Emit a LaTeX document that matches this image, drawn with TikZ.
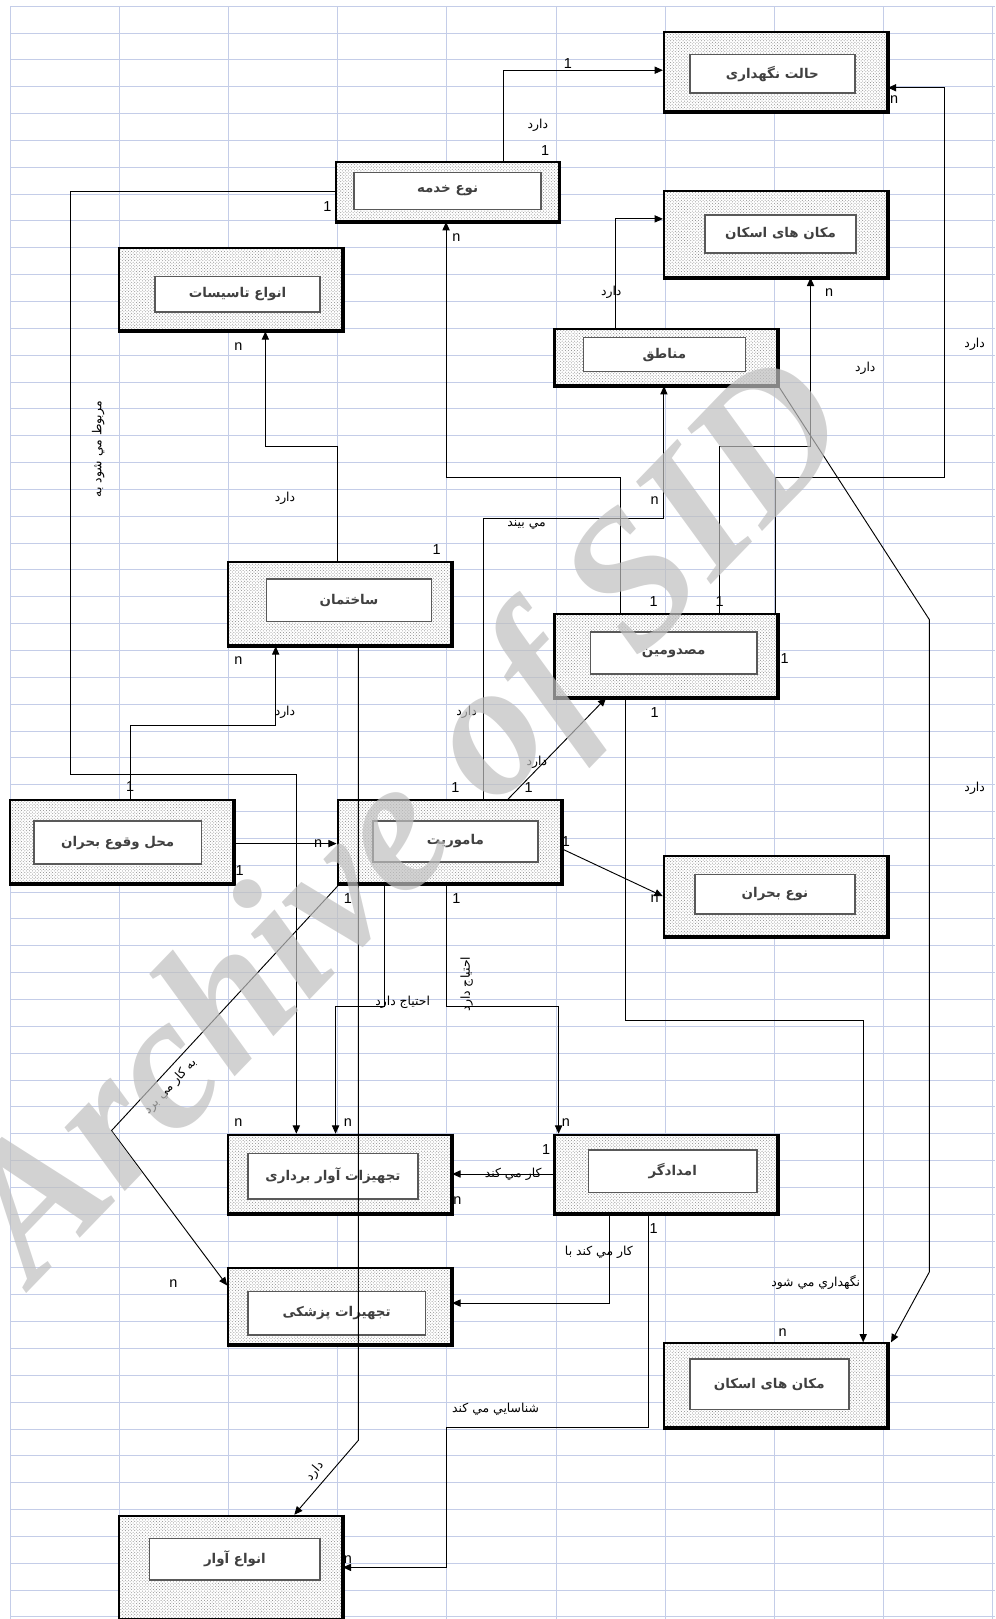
\documentclass[tikz,border=0pt]{standalone}
\usepackage{fontspec}
\setmainfont{Liberation Sans}
\newfontfamily\arabicfont[Script=Arabic]{DejaVu Sans}
\newfontfamily\wmfont{Liberation Serif}
\TeXXeTstate=1
\usetikzlibrary{arrows.meta,patterns}
\newcommand{\fa}[1]{{\arabicfont\beginR #1\endR}}

\begin{document}
\begin{tikzpicture}[x=1pt,y=-1pt,
  grid/.style={draw={rgb,255:red,196;green,205;blue,232},line width=0.9pt},
  ent/.style={draw,line width=2pt,preaction={fill=white},pattern=crosshatch dots,pattern color=black!45,minimum width=216pt,inner sep=0pt},
  lbl/.style={draw=black!65,line width=1.5pt,fill=white,inner sep=0pt,text=black!75,font=\arabicfont\bfseries\fontsize{13}{15}\selectfont},
  rel/.style={inner sep=1pt,font=\arabicfont\fontsize{12}{14}\selectfont},
  card/.style={inner sep=0pt,font=\fontsize{14}{16}\selectfont},
  ln/.style={line width=0.9pt},
  arr/.style={line width=0.9pt,-{Triangle[length=8pt,width=7pt]}}]
\useasboundingbox (0,0) rectangle (964,1568);
% background sheet
\foreach \k in {0,...,9} \draw[grid] ({10+105.7*\k},6) -- ({10+105.7*\k},1568);
\foreach \k in {0,...,60} \draw[grid] (10,{6+26*\k}) -- (964,{6+26*\k});

% entities
\node[ent,minimum height=77pt] (hefz) at (751,69.5) {};
\node[lbl,minimum width=160pt,minimum height=37pt] (hefzL) at (748,71.5) {\fa{حالت نگهداری}};
\node[ent,minimum height=57pt] (khadame) at (433,185.5) {};
\node[lbl,minimum width=181pt,minimum height=36pt] (khadameL) at (433.5,185) {\fa{نوع خدمه}};
\node[ent,minimum height=80pt] (tasisat) at (223,280) {};
\node[lbl,minimum width=160pt,minimum height=34pt] (tasisatL) at (230,285) {\fa{انواع تاسیسات}};
\node[ent,minimum height=83pt] (eskan1) at (751,226.5) {};
\node[lbl,minimum width=146pt,minimum height=37pt] (eskan1L) at (756,226.5) {\fa{مکان های اسکان}};
\node[ent,minimum height=54pt] (manategh) at (645,346) {};
\node[lbl,minimum width=157pt,minimum height=33pt] (manateghL) at (643.5,343.5) {\fa{مناطق}};
\node[ent,minimum height=81pt] (sakhteman) at (329,584.5) {};
\node[lbl,minimum width=160pt,minimum height=41pt] (sakhtemanL) at (338,581.5) {\fa{ساختمان}};
\node[ent,minimum height=80pt] (masdumin) at (645,635) {};
\node[lbl,minimum width=161pt,minimum height=41pt] (masduminL) at (652.5,632.5) {\fa{مصدومین}};
\node[ent,minimum height=80pt] (mahal) at (118,815) {};
\node[lbl,minimum width=162pt,minimum height=42pt] (mahalL) at (114,816) {\fa{محل وقوع بحران}};
\node[ent,minimum height=80pt] (mamuriat) at (435,815) {};
\node[lbl,minimum width=160pt,minimum height=40pt] (mamuriatL) at (441,815) {\fa{ماموریت}};
\node[ent,minimum height=78pt] (noebohran) at (751,868) {};
\node[lbl,minimum width=155pt,minimum height=38pt] (noebohranL) at (750.5,866) {\fa{نوع بحران}};
\node[ent,minimum height=76pt] (avarbardari) at (329,1137) {};
\node[lbl,minimum width=165pt,minimum height=44pt] (avarbardariL) at (322.5,1139) {\fa{تجهیزات آوار برداری}};
\node[ent,minimum height=76pt] (emdadgar) at (645,1137) {};
\node[lbl,minimum width=163pt,minimum height=41pt] (emdadgarL) at (651.5,1134.5) {\fa{امدادگر}};
\node[ent,minimum height=74pt] (pezeshki) at (329,1265) {};
\node[lbl,minimum width=172pt,minimum height=42pt] (pezeshkiL) at (326,1272) {\fa{تجهیزات پزشکی}};
\node[ent,minimum height=81pt] (eskan2) at (751,1341.5) {};
\node[lbl,minimum width=154pt,minimum height=49pt] (eskan2L) at (745,1340.5) {\fa{مکان های اسکان}};
\node[ent,minimum height=100pt] (anvaavar) at (223,1518) {};
\node[lbl,minimum width=165pt,minimum height=40pt] (anvaavarL) at (227.5,1510) {\fa{انواع آوار}};
\foreach \e in {hefz,khadame,tasisat,eskan1,manategh,sakhteman,masdumin,mahal,mamuriat,noebohran,avarbardari,emdadgar,pezeshki,eskan2,anvaavar}
  \draw[line width=3.5pt] (\e.north east) -- (\e.south east) -- (\e.south west);

% relationships
\draw[arr] ([xshift=55pt]khadame.north) |- ([yshift=1.5pt]hefz.west);
\draw[arr] ([xshift=-44pt]masdumin.north) |- (432,462) -- ([xshift=-1pt]khadame.south);
\draw[arr] ([xshift=106pt]masdumin.north) |- (915,462) |- ([yshift=-15.5pt]hefz.east);
\draw[arr] ([xshift=52pt]masdumin.north) |- (785,432) -- ([xshift=34pt]eskan1.south);
\draw[arr] ([xshift=-49pt]manategh.north) |- ([yshift=14.5pt]eskan1.west);
\draw[arr] ([xshift=33pt]mamuriat.north) |- (643,502) -- ([xshift=-2pt]manategh.south);
\draw[arr] (manategh.south east) -- (900,600) -- (900,1232) -- ([xshift=3pt]eskan2.north east);
\draw[arr] ([xshift=-39pt]masdumin.south) |- (836,988) -- ([xshift=85pt]eskan2.north);
\draw[arr] ([xshift=-2pt]sakhteman.north) |- (257,432) -- ([xshift=34pt]tasisat.south);
\draw[arr] ([xshift=18pt]sakhteman.south) -- (347,1395) -- ([xshift=62pt]anvaavar.north);
\draw[arr] ([yshift=-2pt]mahal.east) -- ([yshift=-2pt]mamuriat.west);
\draw[arr] ([xshift=8pt]mahal.north) |- (267,703) -- ([xshift=-62pt]sakhteman.south);
\draw[arr] (khadame.west) -| (68,750) -| ([xshift=-42pt]avarbardari.north);
\draw[arr] ([xshift=57pt]mamuriat.north) -- ([xshift=-58pt]masdumin.south);
\draw[arr] ([yshift=-7pt]mamuriat.east) -- (noebohran.west);
\draw[arr] ([xshift=3pt]mamuriat.south west) -- (108,1095) -- ([yshift=20pt]pezeshki.west);
\draw[arr] ([xshift=-63pt]mamuriat.south) |- (325,975) -- ([xshift=-4pt]avarbardari.north);
\draw[arr] ([xshift=-3pt]mamuriat.south) |- (541,975) -- ([xshift=-104pt]emdadgar.north);
\draw[arr] (emdadgar.west) -- (avarbardari.east);
\draw[arr] ([xshift=-55pt]emdadgar.south) |- ([yshift=3pt]pezeshki.east);
\draw[arr] ([xshift=-17pt]emdadgar.south) |- (432,1382) |- (anvaavar.east);

% cardinalities
\node[card] (c1) at (550,62) {1};
\node[card] (c2) at (528,146) {1};
\node[card] (c3) at (866,96) {n};
\node[card] (c4) at (317,200) {1};
\node[card] (c5) at (442,230) {n};
\node[card] (c6) at (803,283) {n};
\node[card] (c7) at (231,336) {n};
\node[card] (c8) at (634,485) {n};
\node[card] (c9) at (423,532) {1};
\node[card] (c10) at (633,583) {1};
\node[card] (c11) at (697,583) {1};
\node[card] (c12) at (760,638) {1};
\node[card] (c13) at (231,640) {n};
\node[card] (c14) at (634,690) {1};
\node[card] (c15) at (126,762) {1};
\node[card] (c16) at (441,763) {1};
\node[card] (c17) at (512,763) {1};
\node[card] (c18) at (548,815) {1};
\node[card] (c19) at (308,817) {n};
\node[card] (c20) at (232,843) {1};
\node[card] (c21) at (337,870) {1};
\node[card] (c22) at (442,870) {1};
\node[card] (c23) at (634,870) {n};
\node[card] (c24) at (231,1087) {n};
\node[card] (c25) at (337,1087) {n};
\node[card] (c26) at (548,1087) {n};
\node[card] (c27) at (529,1113) {1};
\node[card] (c28) at (443,1163) {n};
\node[card] (c29) at (633,1190) {1};
\node[card] (c30) at (168,1243) {n};
\node[card] (c31) at (758,1291) {n};
\node[card] (c32) at (337,1510) {n};

% relationship names
\node[rel] (r1) at (521,121) {\fa{دارد}};
\node[rel] (r2) at (944,333) {\fa{دارد}};
\node[rel] (r3) at (592,283) {\fa{دارد}};
\node[rel] (r4) at (838,357) {\fa{دارد}};
\node[rel] (r5) at (276,483) {\fa{دارد}};
\node[rel] (r6) at (510,508) {\fa{مي بيند}};
\node[rel] (r7) at (452,690) {\fa{دارد}};
\node[rel] (r8) at (276,690) {\fa{دارد}};
\node[rel] (r9) at (520,738) {\fa{دارد}};
\node[rel] (r10) at (944,763) {\fa{دارد}};
\node[rel,rotate=90] (r11) at (95,435) {\fa{مربوط مي شود به}};
\node[rel] (r12) at (390,971) {\fa{احتياج دارد}};
\node[rel,rotate=90] (r13) at (452,953) {\fa{احتياج دارد}};
\node[rel,rotate=47] (r14) at (165,1052) {\fa{به كار مي برد}};
\node[rel] (r15) at (497,1137) {\fa{كار مي كند}};
\node[rel] (r16) at (580,1213) {\fa{كار مي كند با}};
\node[rel] (r17) at (790,1242) {\fa{نگهداري مي شود}};
\node[rel] (r18) at (480,1365) {\fa{شناسايي مي كند}};
\node[rel,rotate=50] (r19) at (305,1425) {\fa{دارد}};

% watermark
\node[text=black!25,opacity=0.7,rotate=46,font=\wmfont\bfseries\itshape\fontsize{185}{185}\selectfont] (wm) at (400,800) {Archive of SID};
\end{tikzpicture}
\end{document}
